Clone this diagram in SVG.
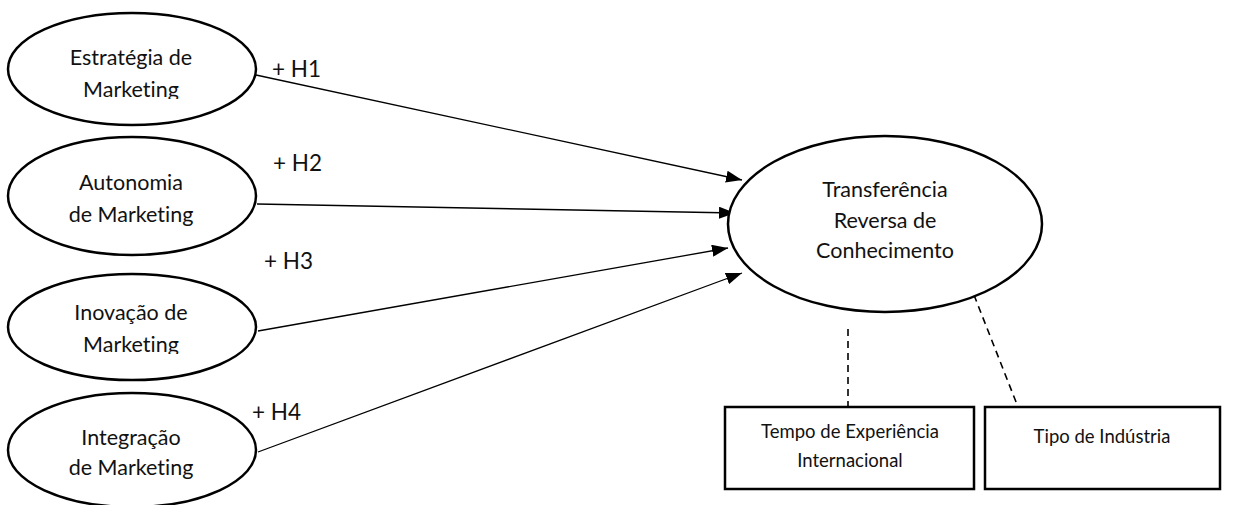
<svg xmlns="http://www.w3.org/2000/svg" width="1248" height="505" viewBox="0 0 1248 505">
<style>
.node ellipse, .node rect { fill: #fff; stroke: #000; stroke-width: 2.5; }
text { font-family: Lato, "Open Sans", "Liberation Sans", sans-serif; fill: #111; text-anchor: middle; font-variant-ligatures: none; font-feature-settings: "liga" 0, "clig" 0; }
.t18 { font-size: 21.5px; }
.t20 { font-size: 21.5px; }
.t15 { font-size: 18.5px; }
.lbl { font-size: 22.5px; text-anchor: start; }
.edge { stroke: #000; stroke-width: 1.3; fill: none; }
.dash { stroke: #000; stroke-width: 1.6; stroke-dasharray: 7 5; fill: none; }
</style>
<defs>
<marker id="arr" viewBox="0 0 16 12" refX="16" refY="6" markerWidth="16" markerHeight="12" markerUnits="userSpaceOnUse" orient="auto">
<path d="M0,0 L16,6 L0,12 z" fill="#000"/>
</marker>
<clipPath id="c1"><rect x="0" y="0" width="300" height="99"/></clipPath>
<clipPath id="c3"><rect x="0" y="260" width="300" height="94"/></clipPath>
</defs>
<rect width="1248" height="505" fill="#fff"/>
<g id="connectors">
<line class="edge" x1="256" y1="75" x2="742" y2="180" marker-end="url(#arr)"/>
<line class="edge" x1="257" y1="204" x2="735" y2="213" marker-end="url(#arr)"/>
<line class="edge" x1="258" y1="331" x2="728" y2="248" marker-end="url(#arr)"/>
<line class="edge" x1="258" y1="452" x2="742" y2="273" marker-end="url(#arr)"/>
<line class="dash" x1="848" y1="329" x2="848" y2="407"/>
<line class="dash" x1="974" y1="295" x2="1018" y2="407"/>
<text class="lbl" x="272" y="77">+ H1</text>
<text class="lbl" x="273" y="171">+ H2</text>
<text class="lbl" x="264" y="269">+ H3</text>
<text class="lbl" x="252" y="420">+ H4</text>
</g>
<g id="n1" class="node">
<ellipse cx="132" cy="69" rx="124" ry="56"/>
<g clip-path="url(#c1)">
<text class="t18" x="131" y="65">Estratégia de</text>
<text class="t18" x="131" y="97">Marketing</text>
</g>
</g>
<g id="n2" class="node">
<ellipse cx="132" cy="196" rx="124" ry="59"/>
<text class="t18" x="131" y="190">Autonomia</text>
<text class="t18" x="131" y="222">de Marketing</text>
</g>
<g id="n3" class="node">
<ellipse cx="132" cy="327" rx="124" ry="53"/>
<g clip-path="url(#c3)">
<text class="t18" x="131" y="320">Inovação de</text>
<text class="t18" x="131" y="352">Marketing</text>
</g>
</g>
<g id="n4" class="node">
<ellipse cx="132" cy="450" rx="124" ry="57"/>
<text class="t18" x="131" y="445">Integração</text>
<text class="t18" x="131" y="475">de Marketing</text>
</g>
<g id="n5" class="node">
<ellipse cx="885" cy="224" rx="157" ry="88"/>
<text class="t20" x="885" y="197">Transferência</text>
<text class="t20" x="885" y="228">Reversa de</text>
<text class="t20" x="885" y="258">Conhecimento</text>
</g>
<g id="n6" class="node">
<rect x="725" y="407" width="249" height="82"/>
<text class="t15" x="850" y="438">Tempo de Experiência</text>
<text class="t15" x="850" y="467">Internacional</text>
</g>
<g id="n7" class="node">
<rect x="985" y="407" width="235" height="82"/>
<text class="t15" x="1102" y="443">Tipo de Indústria</text>
</g>
</svg>
